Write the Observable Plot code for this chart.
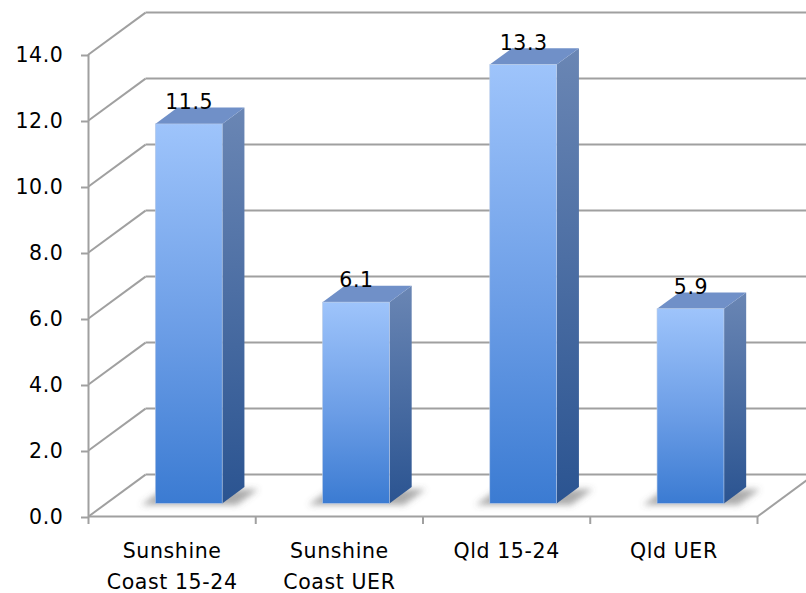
<!DOCTYPE html>
<html>
<head>
<meta charset="utf-8">
<script src="https://cdn.jsdelivr.net/npm/d3@7"></script>
<script src="https://cdn.jsdelivr.net/npm/@observablehq/plot@0.6"></script>
<style>
  html, body { margin: 0; padding: 0; background: #fff; }
  #chart svg { display: block; font-family: "DejaVu Sans", sans-serif; }
  #chart svg text { letter-spacing: 0.6px; }
</style>
</head>
<body>
<div id="chart"></div>
<script>
// ---- data ----
const categories = ["Sunshine\nCoast 15-24", "Sunshine\nCoast UER", "Qld 15-24", "Qld UER"];
const values = [11.5, 6.1, 13.3, 5.9];
const yTicks = [0, 2, 4, 6, 8, 10, 12, 14];
const xTicks = [0, 1, 2, 3, 4];

// ---- 3D projection constants (depth axis expressed in data units) ----
const DX = 0.341;  // horizontal shift of full depth, in category units
const DY = 1.27;   // vertical shift of full depth, in value units
const Z0 = 0.3, Z1 = 0.69;   // bar depth range (0 = front, 1 = back wall)
const BAR_L = 0.3, BAR_R = 0.7; // bar extent within category band

const bars = values.map((v, i) => ({i, v, cat: categories[i]}));

const sideData = bars.flatMap(b => [
  {i: b.i, x: b.i + BAR_R + Z0 * DX, y1: Z0 * DY, y2: b.v + Z0 * DY},
  {i: b.i, x: b.i + BAR_R + Z1 * DX, y1: Z1 * DY, y2: b.v + Z1 * DY}
]);
const topData = bars.flatMap(b => [
  {i: b.i, y: b.v + Z0 * DY, x1: b.i + BAR_L + Z0 * DX, x2: b.i + BAR_R + Z0 * DX},
  {i: b.i, y: b.v + Z1 * DY, x1: b.i + BAR_L + Z1 * DX, x2: b.i + BAR_R + Z1 * DX}
]);
// floor shadow footprint under each bar (slightly larger than the bar base)
const shadowData = bars.flatMap(b => [
  {i: b.i, y: (Z0 - 0.04) * DY, x1: b.i + BAR_L - 0.07 + (Z0 - 0.04) * DX, x2: b.i + BAR_R + 0.1 + (Z0 - 0.04) * DX},
  {i: b.i, y: (Z1 - 0.05) * DY, x1: b.i + BAR_L - 0.07 + (Z1 - 0.05) * DX, x2: b.i + BAR_R + 0.1 + (Z1 - 0.05) * DX}
]);

const grid = "#a0a0a0";

const plot = Plot.plot({
  width: 806,
  height: 593,
  marginLeft: 88,
  marginRight: 49,
  marginTop: 54,
  marginBottom: 77,
  style: {fontFamily: "DejaVu Sans, sans-serif", fontSize: "20.5px", color: "#000", background: "#fff"},
  x: {type: "linear", domain: [0, 4], axis: null},
  y: {domain: [0, 14], axis: null},
  marks: [
    // back wall gridlines
    Plot.link(yTicks, {x1: DX, x2: 4 + DX, y1: d => d + DY, y2: d => d + DY, stroke: grid, strokeWidth: 2}),
    // side wall diagonals
    Plot.link(yTicks, {x1: 0, y1: d => d, x2: DX, y2: d => d + DY, stroke: grid, strokeWidth: 2}),
    // right floor edge
    Plot.link([0], {x1: 4, y1: 0, x2: 4 + DX, y2: DY, stroke: grid, strokeWidth: 2}),
    // front floor edge and front axis
    Plot.ruleY([0], {stroke: grid, strokeWidth: 2}),
    Plot.ruleX([0], {y1: 0, y2: 14, stroke: grid, strokeWidth: 2}),
    Plot.axisY(yTicks, {tickSize: 7, tickPadding: 18, tickFormat: d => d.toFixed(1), stroke: grid, strokeWidth: 2, fill: "#000", fontSize: 20.5, dy: 1}),
    Plot.axisX(xTicks, {tickSize: 8, tickFormat: () => "", stroke: grid, strokeWidth: 2}),
    // category labels
    Plot.text(bars, {x: d => d.i + 0.5, y: 0, text: d => d.cat.split("\n")[0], lineAnchor: "bottom", dy: 41, fontSize: 20.5, fill: "#000"}),
    Plot.text(bars.filter(d => d.cat.includes("\n")), {x: d => d.i + 0.5, y: 0, text: d => d.cat.split("\n")[1], lineAnchor: "bottom", dy: 72, fontSize: 20.5, fill: "#000"}),
    // bar shadows
    Plot.areaX(shadowData, {y: "y", x1: "x1", x2: "x2", z: "i", fill: "#5a5a5a", fillOpacity: 0.5}),
    // bar sides, tops, fronts
    Plot.areaY(sideData, {x: "x", y1: "y1", y2: "y2", z: "i", fill: "url(#gSide)"}),
    Plot.areaX(topData, {y: "y", x1: "x1", x2: "x2", z: "i", fill: "#7090c8"}),
    Plot.rect(bars, {x1: d => d.i + BAR_L + Z0 * DX, x2: d => d.i + BAR_R + Z0 * DX, y1: Z0 * DY, y2: d => d.v + Z0 * DY, fill: "url(#gFront)", stroke: "#b9cbe6", strokeWidth: 0.6}),
    // value labels
    Plot.text(bars, {x: d => d.i + 0.5 + Z0 * DX, y: d => d.v + Z1 * DY, text: d => d.v.toFixed(1), lineAnchor: "bottom", dy: 1, fontSize: 20.5, fill: "#000"})
  ]
});

// gradients and shadow blur
const svg = d3.select(plot);
const defs = svg.insert("defs", ":first-child");
const gF = defs.append("linearGradient").attr("id", "gFront").attr("x1", 0).attr("y1", 0).attr("x2", 0).attr("y2", 1);
gF.append("stop").attr("offset", "0%").attr("stop-color", "#9ec4fb");
gF.append("stop").attr("offset", "55%").attr("stop-color", "#6b9de6");
gF.append("stop").attr("offset", "100%").attr("stop-color", "#3b7bd2");
const gS = defs.append("linearGradient").attr("id", "gSide").attr("x1", 0).attr("y1", 0).attr("x2", 0).attr("y2", 1);
gS.append("stop").attr("offset", "0%").attr("stop-color", "#6a86b4");
gS.append("stop").attr("offset", "100%").attr("stop-color", "#2b5491");
const f = defs.append("filter").attr("id", "blur").attr("filterUnits", "userSpaceOnUse")
  .attr("x", 0).attr("y", 0).attr("width", 806).attr("height", 593);
f.append("feGaussianBlur").attr("stdDeviation", 3);
svg.selectAll("path").filter(function() {
  return this.parentNode && this.parentNode.getAttribute("fill") === "#5a5a5a";
}).attr("filter", "url(#blur)");

document.getElementById("chart").appendChild(plot);
</script>
</body>
</html>
